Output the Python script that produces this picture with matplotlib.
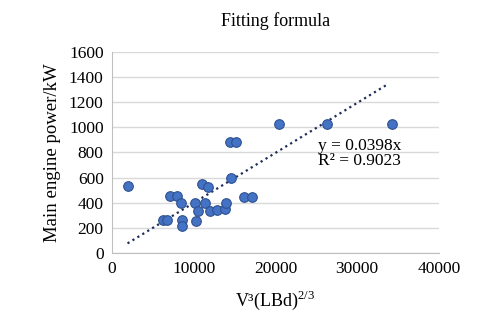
import matplotlib.pyplot as plt
import numpy as np

plt.rcParams['font.family'] = ['Liberation Serif', 'DejaVu Serif']
plt.rcParams['mathtext.fontset'] = 'custom'
plt.rcParams['mathtext.rm'] = 'Liberation Serif'

# V^3(LBd)^(2/3) vs main engine power
x_vals = [1900, 7100, 7900, 8500, 6300, 6700, 8600, 8600, 10300, 10100, 11400,
          10500, 11000, 11700, 12000, 12800, 13800, 14000, 14600, 14400, 15200,
          16100, 17100, 20500, 26300, 34300]
y_vals = [530, 450, 450, 400, 260, 260, 260, 210, 255, 400, 400,
          335, 545, 525, 335, 345, 350, 400, 600, 880, 880,
          445, 445, 1030, 1030, 1030]
slope = 0.0398
r2 = 0.9023

fig = plt.figure(figsize=(4.87, 3.25), dpi=100)
ax = fig.add_axes([0.230, 0.222, 0.671, 0.618])

ax.scatter(x_vals, y_vals, s=48, color='#4472C4', edgecolors='#2F528F',
           linewidths=0.8, zorder=3)

xs = np.linspace(min(x_vals), max(x_vals) - 500, 50)
ax.plot(xs, slope * xs, linestyle=(0, (1, 1.6)), color='#1F2D5A', linewidth=1.6,
        zorder=2)

ax.text(25200, 790, f"y = {slope}x\nR² = {r2}", fontsize=12.5, linespacing=0.9,
        va='center', ha='left')

ax.set_xlim(0, 40000)
ax.set_ylim(0, 1600)
ax.set_xticks(np.arange(0, 40001, 10000))
ax.set_yticks(np.arange(0, 1601, 200))
ax.tick_params(length=0, labelsize=12.5, pad=6)
ax.grid(axis='y', color='#D9D9D9', linewidth=1)
ax.set_axisbelow(True)
for s in ['top', 'right']:
    ax.spines[s].set_visible(False)
for s in ['left', 'bottom']:
    ax.spines[s].set_color('#BFBFBF')

ax.set_title("Fitting formula", fontsize=13, pad=19)
ax.set_xlabel(r"V³(LBd)$^{\mathrm{2/3}}$", fontsize=13, labelpad=8)
ax.set_ylabel("Main engine power/kW", fontsize=13.5, labelpad=6)

fig.savefig("out.png", dpi=100)
